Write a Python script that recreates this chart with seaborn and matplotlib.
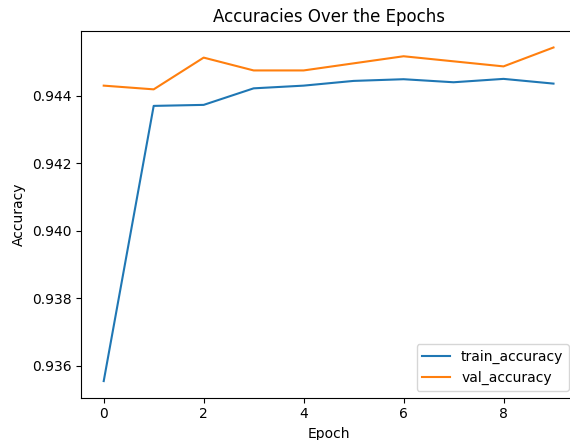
import pandas as pd
import matplotlib
matplotlib.use("Agg")
import matplotlib.pyplot as plt
import seaborn as sns

# Accuracy per epoch
epochs = list(range(10))
train_accuracy = [0.93555, 0.94370, 0.94373, 0.94422, 0.94430,
                  0.94444, 0.94449, 0.94440, 0.94450, 0.94436]
val_accuracy = [0.94430, 0.94419, 0.94513, 0.94475, 0.94475,
                0.94496, 0.94517, 0.94502, 0.94487, 0.94543]

df = pd.DataFrame({
    "Epoch": epochs,
    "train_accuracy": train_accuracy,
    "val_accuracy": val_accuracy,
})

fig = plt.figure(figsize=(5.7, 4.4), dpi=100)
ax = fig.add_axes([0.1425, 0.096, 0.868, 0.834])

sns.lineplot(data=df, x="Epoch", y="train_accuracy", label="train_accuracy", ax=ax)
sns.lineplot(data=df, x="Epoch", y="val_accuracy", label="val_accuracy", ax=ax)

ax.set_title("Accuracies Over the Epochs")
ax.set_xlabel("Epoch")
ax.set_ylabel("Accuracy")
ax.legend(loc="lower right")

fig.savefig("out.png", dpi=100)
